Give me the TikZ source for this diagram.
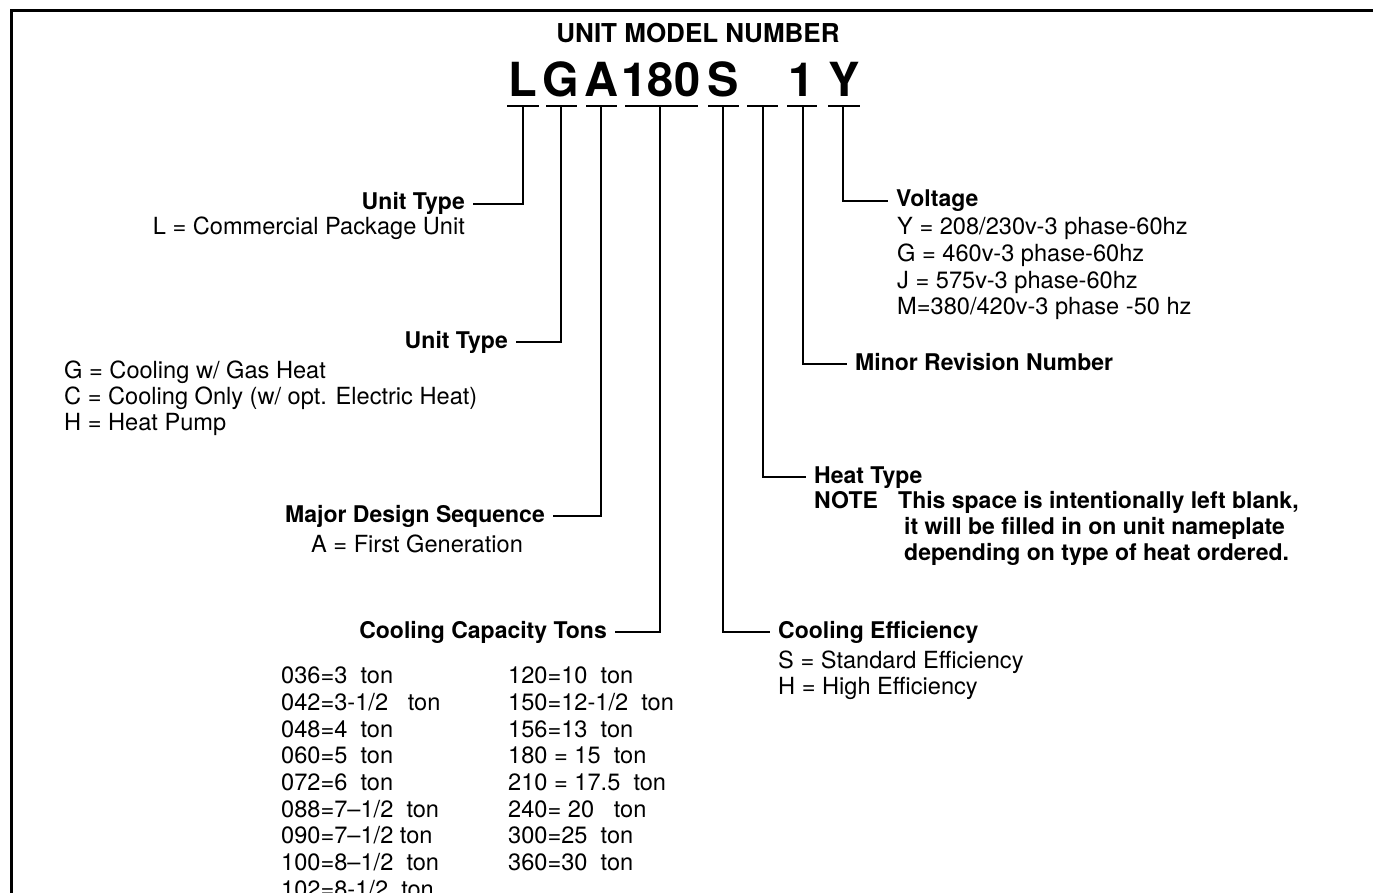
\documentclass[tikz,border=0pt]{standalone}
\usepackage{fontspec}
\setmainfont{TeX Gyre Heros}
\begin{document}
\begin{tikzpicture}[x=1pt,y=-1pt,
  lead/.style={line width=2pt},
  uline/.style={line width=2.7pt},
  frame/.style={line width=3pt},
  hdr/.style={font=\bfseries\fontsize{23}{26}\selectfont, inner xsep=8pt, inner ysep=0pt, text height=16.5pt, text depth=4.8pt},
  txt/.style={font=\fontsize{23.6}{26}\selectfont, inner sep=0pt},
  btxt/.style={font=\bfseries\fontsize{23}{26}\selectfont, inner sep=0pt},
  big/.style={font=\bfseries\fontsize{47}{50}\selectfont, inner sep=0pt},
  ttl/.style={font=\bfseries\fontsize{26}{30}\selectfont, inner sep=0pt}]
\useasboundingbox (0,0) rectangle (1373,893);
% frame
\draw[frame] (11,900) -- (11,11) -- (1380,11);
% title
\node[ttl, anchor=base] (title) at (698,43) {UNIT MODEL NUMBER};
% model letters
\node[big, anchor=base] (cL) at (523,97) {L};
\node[big, anchor=base] (cG) at (561,97) {G};
\node[big, anchor=base] (cA) at (601,97) {A};
\node[big, anchor=base] (cN) at (661,97) {180};
\node[big, anchor=base] (cS) at (723,97) {S};
\node[big, anchor=base] (c1) at (802,97) {1};
\node[big, anchor=base] (cY) at (844,97) {Y};
% underscores
\draw[uline] (507,106) -- (539,106);
\draw[uline] (546,106) -- (577,106);
\draw[uline] (586,106) -- (617,106);
\draw[uline] (625,106) -- (698,106);
\draw[uline] (708,106) -- (739,106);
\draw[uline] (747,106) -- (778,106);
\draw[uline] (787,106) -- (817,106);
\draw[uline] (828,106) -- (860,106);
% stem tops
\coordinate (sL) at (523,106);
\coordinate (sG) at (561,106);
\coordinate (sA) at (601,106);
\coordinate (sN) at (660,106);
\coordinate (sS) at (723,106);
\coordinate (sB) at (763,106);
\coordinate (s1) at (803,106);
\coordinate (sY) at (843,106);
% left labels
\node[hdr, anchor=base east] (ut1) at (473,210) {Unit Type};
\node[txt, anchor=base east] (ut1d) at (465,235) {L = Commercial Package Unit};
\node[hdr, anchor=base east] (ut2) at (516,348) {Unit Type};
\node[txt, anchor=base west] (ut2a) at (64,378) {G = Cooling w/ Gas Heat};
\node[txt, anchor=base west] (ut2b) at (64,404) {C = Cooling Only (w/ opt. Electric Heat)};
\node[txt, anchor=base west] (ut2c) at (64,430) {H = Heat Pump};
\node[hdr, anchor=base east] (mds) at (553,522) {Major Design Sequence};
\node[txt, anchor=base] (mdsd) at (417,552) {A = First Generation};
\node[hdr, anchor=base east] (cct) at (615,638) {Cooling Capacity Tons};
% capacity table
\node[txt, anchor=base west] (t1) at (281,683) {036=3\ \ ton};
\node[txt, anchor=base west] (t2) at (281,710) {042=3-1/2\ \ \ ton};
\node[txt, anchor=base west] (t3) at (281,737) {048=4\ \ ton};
\node[txt, anchor=base west] (t4) at (281,763) {060=5\ \ ton};
\node[txt, anchor=base west] (t5) at (281,790) {072=6\ \ ton};
\node[txt, anchor=base west] (t6) at (281,817) {088=7–1/2\ \ ton};
\node[txt, anchor=base west] (t7) at (281,843) {090=7–1/2 ton};
\node[txt, anchor=base west] (t8) at (281,870) {100=8–1/2\ \ ton};
\node[txt, anchor=base west] (t9) at (281,897) {102=8-1/2\ \ ton};
\node[txt, anchor=base west] (u1) at (508,683) {120=10\ \ ton};
\node[txt, anchor=base west] (u2) at (508,710) {150=12-1/2\ \ ton};
\node[txt, anchor=base west] (u3) at (508,737) {156=13\ \ ton};
\node[txt, anchor=base west] (u4) at (508,763) {180 = 15\ \ ton};
\node[txt, anchor=base west] (u5) at (508,790) {210 = 17.5\ \ ton};
\node[txt, anchor=base west] (u6) at (508,817) {240= 20\ \ \ ton};
\node[txt, anchor=base west] (u7) at (508,843) {300=25\ \ ton};
\node[txt, anchor=base west] (u8) at (508,870) {360=30\ \ ton};
% right labels
\node[hdr, anchor=base west] (ce) at (770,638) {Cooling Efficiency};
\node[txt, anchor=base west] (ce1) at (778,668) {S = Standard Efficiency};
\node[txt, anchor=base west] (ce2) at (778,694) {H = High Efficiency};
\node[hdr, anchor=base west] (ht) at (806,483) {Heat Type};
\node[btxt, anchor=base west] (note) at (814,508) {NOTE};
\node[btxt, anchor=base west] (n1) at (898,508) {This space is intentionally left blank,};
\node[btxt, anchor=base west] (n2) at (904,534) {it will be filled in on unit nameplate};
\node[btxt, anchor=base west] (n3) at (904,560) {depending on type of heat ordered.};
\node[hdr, anchor=base west] (mrn) at (847,370) {Minor Revision Number};
\node[hdr, anchor=base west] (vol) at (888,207) {Voltage};
\node[txt, anchor=base west] (v1) at (897,235) {Y = 208/230v-3 phase-60hz};
\node[txt, anchor=base west] (v2) at (897,262) {G = 460v-3 phase-60hz};
\node[txt, anchor=base west] (v3) at (897,288) {J = 575v-3 phase-60hz};
\node[txt, anchor=base west] (v4) at (897,315) {M=380/420v-3 phase -50 hz};
% leaders
\draw[lead] (sL) |- (ut1.east);
\draw[lead] (sG) |- (ut2.east);
\draw[lead] (sA) |- (mds.east);
\draw[lead] (sN) |- (cct.east);
\draw[lead] (sS) |- (ce.west);
\draw[lead] (sB) |- (ht.west);
\draw[lead] (s1) |- (mrn.west);
\draw[lead] (sY) |- (vol.west);
\end{tikzpicture}
\end{document}
